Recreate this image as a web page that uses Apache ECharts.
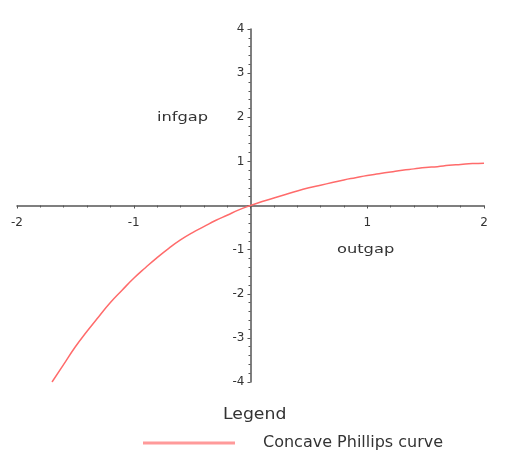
<!DOCTYPE html>
<html>
<head>
<meta charset="utf-8">
<script src="https://cdn.jsdelivr.net/npm/echarts@6/dist/echarts.min.js"></script>
<style>
  html, body { margin: 0; padding: 0; background: #fff; }
  #main { width: 509px; height: 461px; }
</style>
</head>
<body>
<div id="main"></div>
<script>
  // values, every 0.1 along outgap
  const outgap = [-1.7, -1.6, -1.5, -1.4, -1.3, -1.2, -1.1, -1.0, -0.9, -0.8, -0.7, -0.6, -0.5, -0.4, -0.3, -0.2, -0.1,
    0, 0.1, 0.2, 0.3, 0.4, 0.5, 0.6, 0.7, 0.8, 0.9, 1.0, 1.1, 1.2, 1.3, 1.4, 1.5, 1.6, 1.7, 1.8, 1.9, 2.0];
  const infgap = [-4.0, -3.6, -3.2, -2.85, -2.52, -2.2, -1.92, -1.65, -1.41, -1.18, -0.97, -0.78, -0.62, -0.48, -0.34, -0.22, -0.1,
    0, 0.09, 0.17, 0.25, 0.33, 0.40, 0.46, 0.52, 0.58, 0.63, 0.68, 0.72, 0.76, 0.80, 0.83, 0.86, 0.88, 0.91, 0.93, 0.95, 0.96];
  const seriesName = 'Concave Phillips curve';

  let chart = echarts.init(document.getElementById('main'));
  const font = 'DejaVu Sans';
  const axisColor = '#555';
  const hideZero = v => v === 0 ? '' : v;
  // grid is 467 x 353, zero sits in the middle of both axes
  chart.setOption({
    animation: false,
    grid: { left: 17, right: 25, top: 29, bottom: 79 },
    xAxis: {
      type: 'value', min: -2, max: 2, interval: 1,
      position: 'bottom', offset: -176.5,
      axisLine: { onZero: false, lineStyle: { color: axisColor, width: 1.5 } },
      axisTick: { length: 3, lineStyle: { color: axisColor } },
      minorTick: { show: true, splitNumber: 5, length: 2, lineStyle: { color: axisColor } },
      splitLine: { show: false },
      axisLabel: { margin: 11, formatter: hideZero, fontFamily: font, fontSize: 12, color: '#333' }
    },
    yAxis: {
      type: 'value', min: -4, max: 4, interval: 1,
      position: 'left', offset: -233.5,
      axisLine: { onZero: false, lineStyle: { color: axisColor, width: 1.5 } },
      axisTick: { length: 3, lineStyle: { color: axisColor } },
      minorTick: { show: true, splitNumber: 5, length: 2, lineStyle: { color: axisColor } },
      splitLine: { show: false },
      axisLabel: { margin: 6, formatter: hideZero, fontFamily: font, fontSize: 12, color: '#333' }
    },
    legend: {
      data: [seriesName],
      left: 138, top: 430,
      icon: 'rect', itemWidth: 92, itemHeight: 3,
      textStyle: { padding: [0, 0, 0, 23], fontFamily: font, fontSize: 16, color: '#333' }
    },
    graphic: [
      { type: 'text', x: 157, y: 118, scaleX: 1.25, style: { text: 'infgap', font: '13px "DejaVu Sans"', fill: '#333', verticalAlign: 'middle' } },
      { type: 'text', x: 337, y: 250, scaleX: 1.25, style: { text: 'outgap', font: '13px "DejaVu Sans"', fill: '#333', verticalAlign: 'middle' } },
      { type: 'text', x: 223, y: 415, scaleX: 1.15, style: { text: 'Legend', font: '15px "DejaVu Sans"', fill: '#333', verticalAlign: 'middle' } }
    ],
    series: [{
      name: seriesName,
      type: 'line',
      smooth: true,
      showSymbol: false,
      data: outgap.map((x, i) => [x, infgap[i]]),
      lineStyle: { color: '#ff6b6b', width: 1.5 },
      itemStyle: { color: '#ff9a9a' }
    }]
  });
</script>
</body>
</html>
